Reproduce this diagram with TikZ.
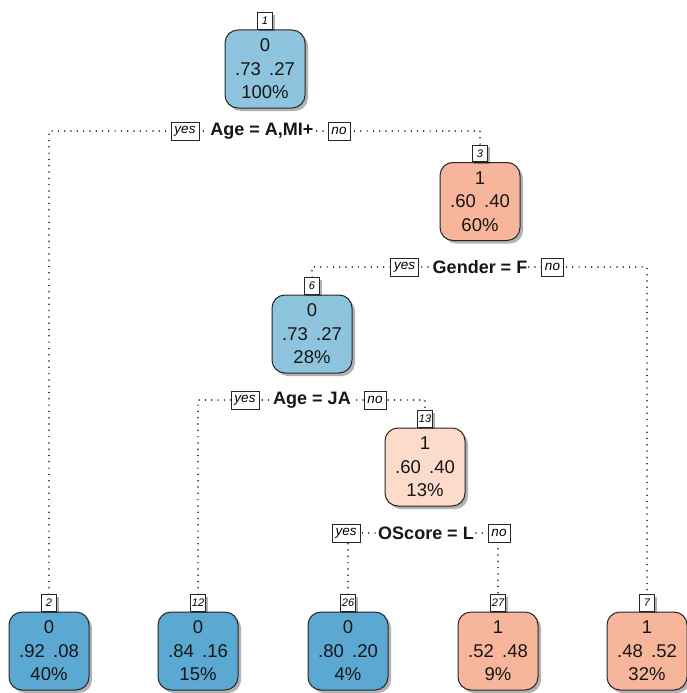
\documentclass[tikz,border=0pt]{standalone}
\usepackage{fontspec}
\setmainfont{Liberation Sans}
\usetikzlibrary{shadows}
\pgfdeclarelayer{lines}
\pgfsetlayers{lines,main}

\definecolor{blueMid}{HTML}{8FC4DE}
\definecolor{blueLeaf}{HTML}{5BA8D2}
\definecolor{orangeMid}{HTML}{F7B59B}
\definecolor{orangePale}{HTML}{FCDBCB}
\definecolor{inkcol}{HTML}{161616}

\tikzset{
  x=1pt, y=-1pt,
  treebox/.style={draw=black!85, line width=1pt, rounded corners=13pt,
    minimum width=80pt, minimum height=78pt, inner sep=0pt, align=center,
    text=inkcol, font=\fontsize{18.5}{23.5}\selectfont,
    drop shadow={shadow xshift=3pt, shadow yshift=-3pt, fill=black, opacity=0.3}},
  idtag/.style={draw=black!85, line width=0.9pt, fill=white, inner sep=1.5pt,
    minimum height=16.5pt, minimum width=15.5pt, anchor=south,
    font=\fontsize{11}{11}\selectfont\itshape,
    drop shadow={shadow xshift=2pt, shadow yshift=-2pt, fill=black, opacity=0.3}},
  yesno/.style={draw=black!85, line width=0.9pt, fill=white, inner xsep=3.5pt,
    inner ysep=2pt, minimum height=18pt, font=\fontsize{13.5}{13.5}\selectfont\itshape},
  splittext/.style={fill=white, inner sep=1pt, text=inkcol,
    font=\fontsize{18}{18}\selectfont\bfseries},
  dotline/.style={line width=1.7pt, line cap=round, dash pattern=on 0pt off 6.3pt, black!90}
}

\begin{document}
\begin{tikzpicture}
\useasboundingbox (0,0) rectangle (686,693);

% inner nodes
\node[treebox, fill=blueMid] (n1) at (265,69) {0\\.73\hspace{0.45em}.27\\100\%};
\node[idtag] (t1) at (n1.north) {1};
\node[treebox, fill=orangeMid] (n3) at (480,201.5) {1\\.60\hspace{0.45em}.40\\60\%};
\node[idtag] (t3) at (n3.north) {3};
\node[treebox, fill=blueMid] (n6) at (312,334) {0\\.73\hspace{0.45em}.27\\28\%};
\node[idtag] (t6) at (n6.north) {6};
\node[treebox, fill=orangePale] (n13) at (425,467) {1\\.60\hspace{0.45em}.40\\13\%};
\node[idtag] (t13) at (n13.north) {13};

% leaves
\node[treebox, fill=blueLeaf] (n2) at (49,651) {0\\.92\hspace{0.45em}.08\\40\%};
\node[idtag] (t2) at (n2.north) {2};
\node[treebox, fill=blueLeaf] (n12) at (198,651) {0\\.84\hspace{0.45em}.16\\15\%};
\node[idtag] (t12) at (n12.north) {12};
\node[treebox, fill=blueLeaf] (n26) at (348,651) {0\\.80\hspace{0.45em}.20\\4\%};
\node[idtag] (t26) at (n26.north) {26};
\node[treebox, fill=orangeMid] (n27) at (498,651) {1\\.52\hspace{0.45em}.48\\9\%};
\node[idtag] (t27) at (n27.north) {27};
\node[treebox, fill=orangeMid] (n7) at (647,651) {1\\.48\hspace{0.45em}.52\\32\%};
\node[idtag] (t7) at (n7.north) {7};

% split labels
\node[splittext] (s1) at (262,131) {Age = A,MI+};
\node[yesno] (y1) at (185,131) {yes};
\node[yesno] (o1) at (339,131) {no};

\node[splittext] (s3) at (480,267) {Gender = F};
\node[yesno] (y3) at (404.5,267) {yes};
\node[yesno] (o3) at (552.5,267) {no};

\node[splittext] (s6) at (312,400) {Age = JA};
\node[yesno] (y6) at (245,400) {yes};
\node[yesno] (o6) at (375,400) {no};

\node[splittext] (s13) at (426,533) {OScore = L};
\node[yesno] (y13) at (346,533) {yes};
\node[yesno] (o13) at (499,533) {no};

% dotted branches
\begin{pgfonlayer}{lines}
\draw[dotline] (t2.north) |- (s1.center) -| (t3.north);
\draw[dotline] (t6.north) |- (s3.center) -| (t7.north);
\draw[dotline] (t12.north) |- (s6.center) -| (t13.north);
\draw[dotline] (t26.north) |- (s13.center) -| (t27.north);
\end{pgfonlayer}
\end{tikzpicture}
\end{document}
